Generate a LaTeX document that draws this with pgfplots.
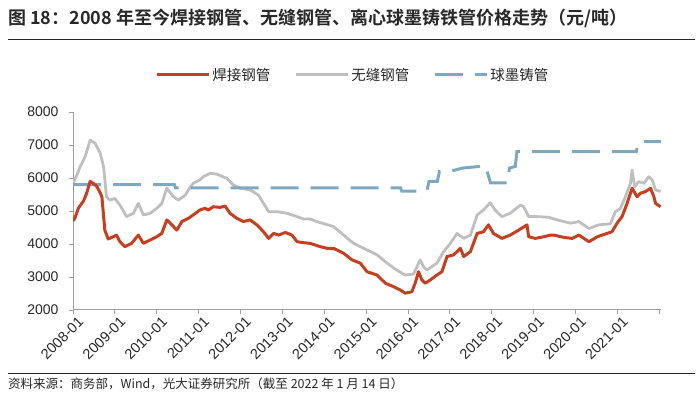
\documentclass[border=0pt]{standalone}
\usepackage{fontspec}
\setmainfont{Liberation Sans}
\newfontfamily\cjk{Noto Sans CJK SC}[BoldFont={Noto Sans CJK SC Bold}]
\usepackage{pgfplots}
\pgfplotsset{compat=1.18}
\definecolor{cred}{RGB}{196,64,32}
\definecolor{cgray}{RGB}{191,191,191}
\definecolor{cblue}{RGB}{127,167,192}
\definecolor{caxis}{RGB}{160,160,160}
\definecolor{ctext}{RGB}{40,40,40}

\pgfplotstableread{
t v
0 4700
0.05 4800
0.13 5090
0.25 5300
0.33 5550
0.41 5900
0.50 5820
0.57 5740
0.65 5550
0.69 5430
0.76 4420
0.84 4150
0.96 4220
1.04 4270
1.12 4070
1.24 3920
1.40 4020
1.56 4270
1.68 4020
1.84 4120
2.00 4220
2.12 4320
2.24 4730
2.36 4580
2.48 4420
2.60 4680
2.76 4780
2.87 4880
3.03 5030
3.15 5080
3.23 5030
3.35 5130
3.51 5110
3.63 5150
3.75 4930
3.91 4780
4.07 4680
4.23 4730
4.39 4580
4.55 4370
4.67 4170
4.79 4320
4.91 4270
5.07 4350
5.23 4270
5.35 4070
5.50 4040
5.66 4020
5.90 3920
6.06 3870
6.22 3870
6.46 3720
6.66 3520
6.86 3420
7.02 3160
7.26 3060
7.46 2810
7.65 2710
7.81 2610
7.93 2510
8.09 2550
8.17 2810
8.25 3160
8.33 2910
8.41 2810
8.53 2910
8.69 3060
8.81 3160
8.93 3620
9.09 3670
9.25 3870
9.33 3620
9.49 3770
9.65 4320
9.80 4370
9.92 4580
10.04 4320
10.24 4170
10.44 4270
10.64 4420
10.84 4580
10.88 4220
11.04 4170
11.24 4220
11.40 4270
11.48 4270
11.72 4200
11.92 4170
12.08 4270
12.20 4170
12.32 4070
12.52 4220
12.75 4320
12.87 4370
12.99 4630
13.11 4830
13.23 5230
13.35 5690
13.47 5430
13.55 5540
13.67 5590
13.79 5690
13.87 5430
13.91 5230
14.03 5130
}\welded

\pgfplotstableread{
t v
0 5850
0.08 6050
0.17 6340
0.29 6650
0.41 7150
0.53 7050
0.65 6750
0.73 6340
0.80 5430
0.88 5330
1.00 5380
1.12 5180
1.28 4830
1.44 4930
1.56 5230
1.68 4880
1.84 4930
2.00 5080
2.12 5230
2.24 5690
2.40 5430
2.52 5330
2.68 5480
2.76 5650
2.87 5840
3.03 5940
3.11 6040
3.27 6140
3.43 6120
3.67 5990
3.83 5790
3.99 5690
4.23 5640
4.43 5480
4.55 5230
4.67 4980
4.87 4980
5.11 4930
5.35 4830
5.50 4760
5.66 4760
5.82 4680
6.22 4530
6.46 4270
6.70 4020
7.02 3820
7.26 3670
7.50 3420
7.73 3210
7.93 3060
8.13 3090
8.29 3520
8.37 3310
8.45 3210
8.69 3420
8.85 3770
9.01 4020
9.17 4320
9.33 4170
9.49 4270
9.65 4880
9.80 5030
9.96 5250
10.08 5030
10.24 4830
10.44 4930
10.68 5180
10.76 5130
10.88 4830
11.08 4830
11.36 4810
11.56 4730
11.88 4630
12.08 4680
12.32 4470
12.55 4580
12.83 4610
12.95 4980
13.07 5080
13.19 5430
13.31 5840
13.35 6240
13.41 5740
13.51 5890
13.63 5840
13.75 6040
13.83 5940
13.91 5640
14.03 5590
}\seamless

\pgfplotstableread{
t v
0 5800
2.42 5800
2.45 5700
7.82 5700
7.85 5600
8.45 5600
8.50 5900
8.70 5900
8.75 6200
9.00 6200
9.30 6300
9.70 6350
9.82 6400
9.90 6150
9.97 5850
10.38 5850
10.42 6300
10.56 6350
10.60 6800
13.45 6800
13.50 7100
14.04 7100
}\ductile

\begin{document}
\begin{tikzpicture}[x=1pt,y=1pt]
\path[use as bounding box] (0,0) rectangle (700,395);
\node[anchor=west, font=\cjk\bfseries\fontsize{18}{20}\selectfont, text=ctext, inner sep=0] at (8,377) {图 18：2008 年至今焊接钢管、无缝钢管、离心球墨铸铁管价格走势（元/吨）};
\draw[line width=0.9pt, ctext] (8,356) -- (695,356);
\draw[line width=0.9pt, ctext] (8,22) -- (695,22);
\node[anchor=west, font=\cjk\fontsize{12.5}{14}\selectfont, text=ctext, inner sep=0] at (8,11) {资料来源：商务部，Wind，光大证券研究所（截至 2022 年 1 月 14 日）};
\begin{axis}[
  at={(73pt,85pt)}, anchor=south west,
  scale only axis, width=588pt, height=198pt,
  xmin=0, xmax=14.04, ymin=2000, ymax=8000,
  axis x line*=bottom, axis y line*=left,
  axis line style={draw=caxis, line width=1pt},
  tick style={draw=caxis, line width=0.9pt},
  tick align=outside, major tick length=4pt,
  xtick={0,1,...,14},
  xticklabels={2008-01,2009-01,2010-01,2011-01,2012-01,2013-01,2014-01,2015-01,2016-01,2017-01,2018-01,2019-01,2020-01,2021-01,{}},
  x tick label style={rotate=45, anchor=north east, font=\fontsize{14.5}{16}\selectfont, text=ctext, inner sep=1pt, xshift=3pt, yshift=-3pt},
  ytick={2000,3000,...,8000},
  y tick label style={font=\fontsize{14}{16}\selectfont, text=ctext, xshift=-7pt},
  /pgf/number format/assume math mode=true,
  /pgf/number format/1000 sep={},
  scaled y ticks=false,
  legend style={at={(0.476,1.187)}, anchor=center, draw=none, fill=none,
    legend columns=3, font=\cjk\fontsize{14.5}{16}\selectfont, text=ctext,
    /tikz/every even column/.append style={column sep=22pt},
    legend cell align=left},
  legend image code/.code={\draw[#1] (0pt,0pt) -- (52pt,0pt);},
]
\addlegendimage{cred, line width=3pt}
\addlegendentry{焊接钢管}
\addlegendimage{cgray, line width=3pt}
\addlegendentry{无缝钢管}
\addlegendimage{cblue, line width=3pt, dash pattern=on 28pt off 12pt}
\addlegendentry{球墨铸管}
\addplot[forget plot, cgray, line width=2.8pt, line join=round] table[x=t,y=v] {\seamless};
\addplot[forget plot, cblue, line width=3pt, dash pattern=on 28pt off 12pt] table[x=t,y=v] {\ductile};
\addplot[forget plot, cred, line width=3pt, line join=round] table[x=t,y=v] {\welded};
\end{axis}
\end{tikzpicture}
\end{document}
